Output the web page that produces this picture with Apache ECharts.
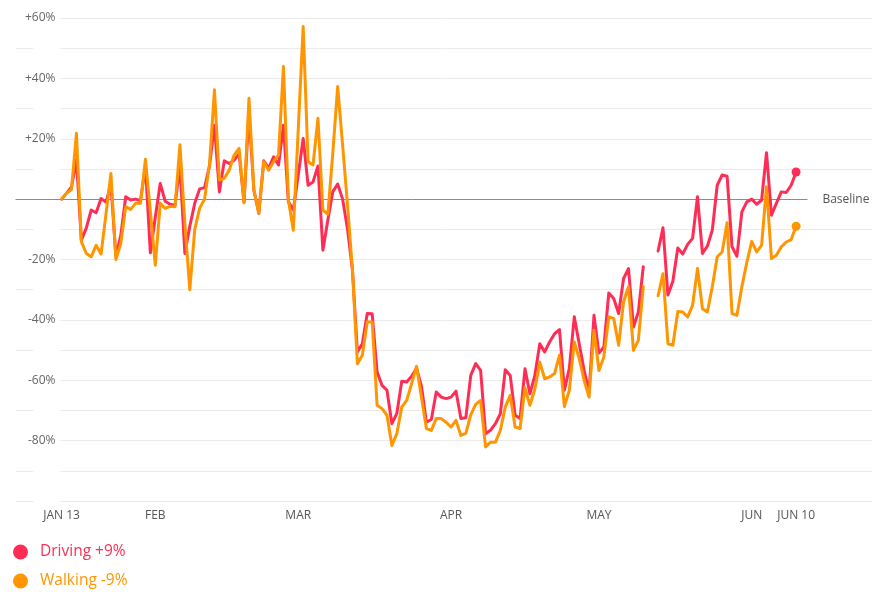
<!DOCTYPE html>
<html>
<head>
<meta charset="utf-8">
<style>
  html, body { margin: 0; padding: 0; background: #fff; }
  #chart { width: 873px; height: 592px; }
</style>
<script src="https://cdn.jsdelivr.net/npm/echarts@6/dist/echarts.min.js"></script>
</head>
<body>
<div id="chart"></div>
<script>
// Days since JAN 13 (index 0) to JUN 10 (index 149)
const driving = [
  0, 2, 4, 13, -13.6, -9.6, -3.6, -4.5, 0.2, -1,
  5, -19, -12, 0.8, -0.3, 0, -0.5, 11, -17.8, -6,
  5.2, -0.7, -1.7, -2, 11, -18, -9, -1.4, 3.4, 3.8,
  11, 24.5, 2.4, 12.7, 11.8, 12.9, 15, -1, 29, 3,
  -4.7, 12.7, 10.3, 14, 11.3, 24.5, -0.9, -3.6, 8, 20.1,
  4.6, 5.7, 11, -16.9, -7, 2.4, 5, 0, -10, -23.5,
  -50.6, -47.9, -37.9, -38, -57.3, -61.7, -63.3, -74.4, -71, -60.3,
  -60.6, -58.7, -56, -62, -73.9, -73, -63.9, -65.6, -66.1, -65.6,
  -63.6, -72.7, -72.4, -58.4, -54.5, -56.7, -77.7, -76.6, -74.4, -71.1,
  -56.5, -58.4, -71.6, -72.7, -56.2, -64.5, -58.4, -47.9, -50.6, -47.3,
  -44.6, -43.2, -63.3, -56, -39, -47.9, -56.7, -63.9, -38.5, -51,
  -49, -31.1, -32.9, -37.9, -26.3, -23, -42.4, -37.4, -22.4, null,
  null, -17.2, -9.5, -31.8, -27.2, -16.2, -18.2, -15, -13, 0.8,
  -18, -15.6, -10.3, 4.6, 8, 7.6, -15.8, -18.9, -4.2, -0.9,
  0, -1.7, -0.3, 15.4, -5.3, -1.4, 2.4, 2.2, 4.6, 9
];
const walking = [
  0, 2, 3.2, 21.8, -14.1, -18, -19.1, -15.3, -18.2, -4.9,
  8.5, -20, -14.7, -2.5, -3.4, -1.4, -1.4, 13.2, -4, -21.9,
  -1.4, -3.1, -2.4, -2.5, 18, -8, -30, -10, -3, 0,
  11.5, 36.2, 6.3, 6.9, 9.6, 14.6, 16.8, -1.2, 33.4, 3,
  -4.7, 12.4, 9.6, 12.4, 14.6, 43.9, -0.3, -10.3, 23, 57.2,
  12.4, 11.3, 26.8, -3.6, -5, 15, 37.3, 18, -2, -23.5,
  -54.5, -51.7, -40.7, -40.7, -68.3, -69.4, -71.6, -81.6, -77.7, -68.9,
  -66.7, -61.1, -55.4, -65.6, -76, -76.6, -72.7, -72.7, -73.9, -75.5,
  -73.3, -78.3, -77.6, -71.5, -68, -66.7, -82.1, -80.5, -80.5, -76.6,
  -68.9, -65, -75.5, -76, -62.5, -68.3, -63, -54, -59.5, -58.9,
  -57.8, -51.7, -68.7, -63.3, -47.3, -52.8, -60, -65.6, -43.4, -56.8,
  -52.3, -39, -39.5, -48.4, -34, -29, -50.1, -46.8, -29, null,
  null, -32, -24.7, -47.9, -48.4, -37.2, -37.4, -39, -35.2, -23,
  -36.3, -37.4, -29, -19.1, -17.5, -7.8, -37.9, -38.5, -29, -21,
  -14, -17.5, -15.3, 4.1, -19.7, -18.6, -15.8, -14.2, -13.4, -9
];
const seriesNames = ['Driving +9%', 'Walking -9%'];
const seriesColors = ['#ff2d55', '#ff9500'];
const tickDays = [0, 19, 48, 79, 109, 140, 149];
const tickLabels = ['JAN 13', 'FEB', 'MAR', 'APR', 'MAY', 'JUN', 'JUN 10'];
const yTickValues = [60, 40, 20, -20, -40, -60, -80];
const baselineLabel = 'Baseline';

// axis extent (in day units) so that the plot frame runs past the data on both sides
const X_MIN = -9.36;
const X_MAX = 164.4;
const BASELINE_END = 151.3;

const lastIdx = driving.length - 1;
const toPairs = arr => arr.map((v, i) => [i, v]);

// split line colours, from -100 up to +60; the 0 line is replaced by the baseline mark
const splitColors = [];
for (let v = -100; v <= 60; v += 10) splitColors.push(v === 0 ? 'rgba(0,0,0,0)' : '#ebebeb');

const FONT = '"Open Sans", "Noto Sans", sans-serif';

const chart = echarts.init(document.getElementById('chart'), null, { renderer: 'canvas' });
const makeSeries = (name, data, color, withBaseline) => {
  const s = {
    name: name,
    type: 'line',
    data: toPairs(data),
    color: color,
    connectNulls: false,
    showSymbol: true,
    symbol: 'circle',
    symbolSize: (val, params) => params.dataIndex === lastIdx ? 9 : 0,
    itemStyle: { color: color },
    lineStyle: { color: color, width: 3, join: 'round', cap: 'round' },
    emphasis: { disabled: true },
    animation: false,
    z: withBaseline ? 3 : 2
  };
  if (withBaseline) {
    s.markLine = {
      silent: true,
      symbol: ['none', 'none'],
      animation: false,
      lineStyle: { color: '#8c8c8c', width: 1, type: 'solid' },
      label: {
        show: true, position: 'end', formatter: baselineLabel, distance: 15,
        color: '#555', fontSize: 12, fontFamily: FONT
      },
      data: [[{ coord: [X_MIN, 0] }, { coord: [BASELINE_END, 0] }]],
      z: 1
    };
  }
  return s;
};

chart.setOption({
  animation: false,
  backgroundColor: '#ffffff',
  grid: { left: 12, right: 1, top: 18, bottom: 91, containLabel: false },
  xAxis: {
    type: 'value',
    min: X_MIN,
    max: X_MAX,
    axisLine: { show: false },
    axisTick: { show: false },
    splitLine: { show: false },
    axisLabel: {
      customValues: tickDays,
      formatter: v => { const k = tickDays.indexOf(Math.round(v)); return k >= 0 ? tickLabels[k] : ''; },
      color: '#555', fontSize: 12, fontFamily: FONT, margin: 9, hideOverlap: false
    }
  },
  yAxis: {
    type: 'value',
    min: -100,
    max: 60,
    interval: 10,
    axisLine: { show: false },
    axisTick: { show: false },
    splitLine: { show: true, lineStyle: { color: splitColors, width: 1 } },
    axisLabel: {
      inside: true,
      margin: 45,
      align: 'right',
      verticalAlign: 'middle',
      color: '#666', fontSize: 12, fontFamily: FONT,
      backgroundColor: '#ffffff',
      padding: [3, 5, 3, 22],
      formatter: v => yTickValues.indexOf(v) >= 0 ? (v > 0 ? '+' + v + '%' : v + '%') : ''
    }
  },
  legend: {
    orient: 'vertical',
    left: 13,
    top: 544,
    height: 48,
    padding: 0,
    icon: 'circle',
    itemWidth: 15,
    itemHeight: 15,
    itemGap: 13,
    selectedMode: false,
    data: seriesNames.map((n, i) => ({ name: n, textStyle: { color: seriesColors[i] } })),
    textStyle: { fontSize: 15.5, fontFamily: FONT, padding: [0, 0, 0, 7] }
  },
  series: [
    makeSeries(seriesNames[1], walking, seriesColors[1], true),
    makeSeries(seriesNames[0], driving, seriesColors[0], false)
  ]
});
</script>
</body>
</html>
